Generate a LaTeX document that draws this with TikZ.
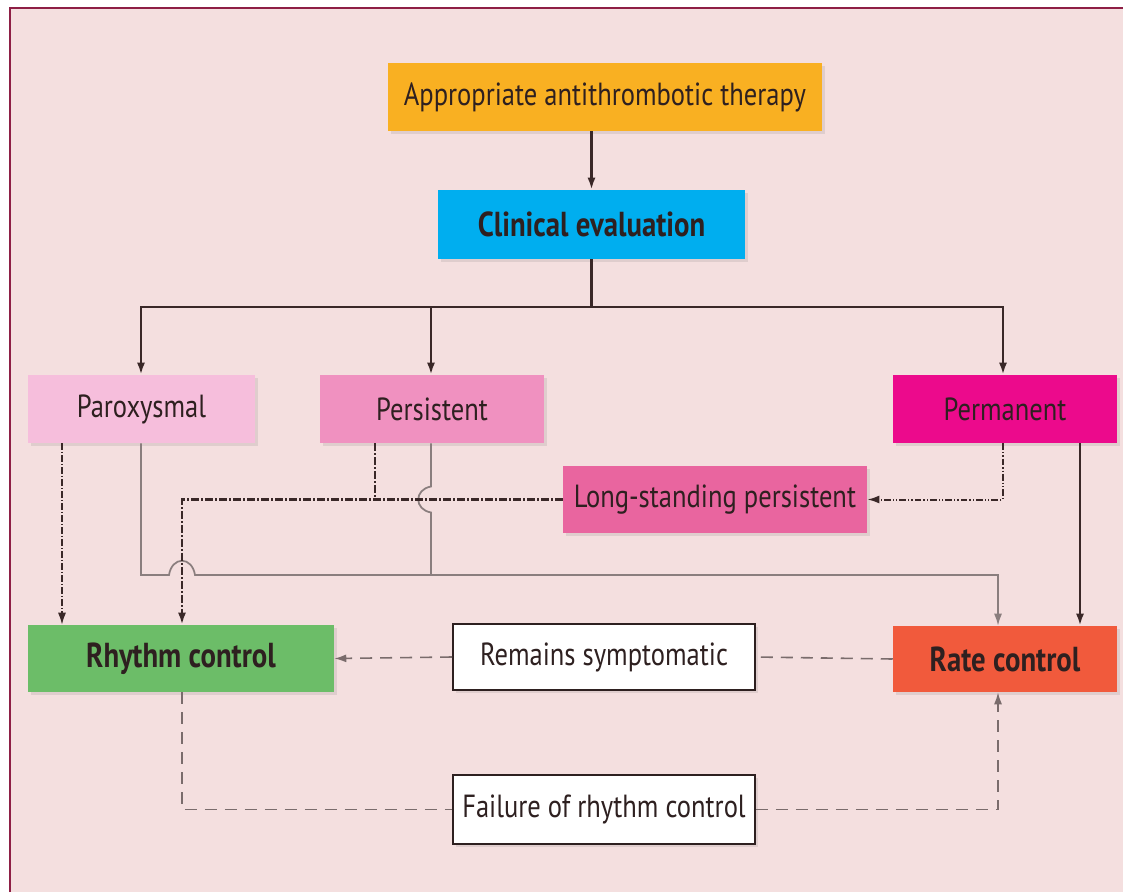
\documentclass[tikz,border=0pt]{standalone}
\usepackage{fontspec}
\setmainfont{PT Sans}[FakeStretch=0.83]
\usetikzlibrary{arrows.meta,shadows,calc}

\definecolor{pagebg}{HTML}{F4DFDF}
\definecolor{framecol}{HTML}{8E1F45}
\definecolor{cOrange}{HTML}{F9B022}
\definecolor{cCyan}{HTML}{00AEEF}
\definecolor{cParox}{HTML}{F6BEDC}
\definecolor{cPers}{HTML}{F091C0}
\definecolor{cPerm}{HTML}{EC0A8C}
\definecolor{cLong}{HTML}{E9659F}
\definecolor{cRhythm}{HTML}{6CBD68}
\definecolor{cRate}{HTML}{F15A3C}
\definecolor{ink}{HTML}{2E2020}
\definecolor{lineDark}{HTML}{3A2828}
\definecolor{lineGray}{HTML}{8A7E7E}
\definecolor{lineDash}{HTML}{7A6C6C}

\begin{document}
\begin{tikzpicture}[x=0.75pt,y=-0.75pt,
  wd/.style={minimum width=#1*0.75pt},
  ht/.style={minimum height=#1*0.75pt},
  box/.style={rectangle, inner sep=0pt, text=ink,
    font=\fontsize{24}{28}\selectfont,
    drop shadow={opacity=0.18, shadow xshift=2.5pt, shadow yshift=-2.5pt}},
  boldbox/.style={box, font=\fontsize{26}{30}\selectfont\bfseries},
  whitebox/.style={box, fill=white, draw=ink, line width=1.3pt},
  tip/.style={-{Latex[length=9pt,width=6pt]}},
  mainline/.style={draw=lineDark, line width=1.8pt},
  grayline/.style={draw=lineGray, line width=1.3pt},
  dashline/.style={draw=lineDash, line width=1.2pt, dash pattern=on 9pt off 6pt},
  dotdashthin/.style={draw=lineDark, line width=1.2pt, dash pattern=on 5pt off 1.5pt on 1pt off 1.5pt},
  dotdashthick/.style={draw=lineDark, line width=2.2pt, dash pattern=on 6pt off 1.5pt on 1.5pt off 1.5pt},
  dotdashperm/.style={draw=lineDark, line width=1.5pt, dash pattern=on 5pt off 1.5pt on 1pt off 1.5pt on 1pt off 1.5pt},
]
% page and frame
\useasboundingbox (0,0) rectangle (1123,892);
\fill[white] (0,0) rectangle (1123,892);
\fill[pagebg] (10,8) rectangle (1123,892);
\draw[framecol, line width=1.4pt] (10,892) -- (10,8) -- (1123,8);

% nodes
\node[box, fill=cOrange, wd=434, ht=68] (app) at (605,97) {Appropriate antithrombotic therapy};
\node[boldbox, fill=cCyan, wd=307, ht=69] (clin) at (591.5,224.5) {Clinical evaluation};
\node[box, fill=cParox, wd=227, ht=68] (parox) at (141.5,409) {Paroxysmal};
\node[box, fill=cPers, wd=224, ht=68] (pers) at (432,409) {Persistent};
\node[box, fill=cPerm, wd=224, ht=68] (perm) at (1005,409) {Permanent};
\node[box, fill=cLong, wd=304, ht=67] (long) at (715,499.5) {Long-standing persistent};
\node[boldbox, fill=cRhythm, wd=306, ht=67] (rhythm) at (181,658.5) {Rhythm control};
\node[whitebox, wd=302, ht=66] (remains) at (604,657) {Remains symptomatic};
\node[boldbox, fill=cRate, wd=224, ht=66] (rate) at (1005,659) {Rate control};
\node[whitebox, wd=302, ht=69] (fail) at (604,809.5) {Failure of rhythm control};

% routing columns and rows
\coordinate (xParoxA) at (62,0);
\coordinate (xParoxB) at (141,0);
\coordinate (xPersA) at (375,0);
\coordinate (xPersB) at (431,0);
\coordinate (xPermA) at (1003,0);
\coordinate (xPermB) at (1080,0);
\coordinate (xRhy) at (182,0);
\coordinate (xRate) at (998,0);
\coordinate (yBus) at (0,307);
\coordinate (yGray) at (0,575);
\coordinate (bus) at (clin.south |- yBus);

% top of the tree
\draw[mainline, tip] (app.south -| clin.north) -- (clin.north);
\draw[mainline] (clin.south) -- (bus);
\draw[mainline, tip] (bus) -| (parox.north -| xParoxB);
\draw[mainline, tip] (xPersB |- yBus) -- (pers.north -| xPersB);
\draw[mainline, tip] (bus) -| (perm.north -| xPermA);

% paroxysmal to rhythm control
\draw[dotdashthin, tip] (parox.south -| xParoxA) -- (rhythm.north -| xParoxA);

% paroxysmal and persistent to rate control (thin grey, with hops)
\draw[grayline, tip] (parox.south -| xParoxB) -- (xParoxB |- yGray)
  -- ($(xRhy |- yGray)+(-13,0)$) .. controls +(3,-19) and +(-3,-19) .. ++(26,0)
  -- (xRate |- yGray) -- (rate.north -| xRate);
\draw[grayline] (pers.south -| xPersB)
  -- ($(xPersB |- long.west)+(0,-13)$) .. controls +(-17,3) and +(-17,-3) .. ++(0,26)
  -- (xPersB |- yGray);

% persistent and long-standing persistent to rhythm control
\draw[dotdashthick] (pers.south -| xPersA) -- (xPersA |- long.west);
\draw[dotdashthick, tip] (long.west) -- (xRhy |- long.west) -- (rhythm.north -| xRhy);

% permanent
\draw[dotdashperm, tip] (perm.south -| xPermA) |- (long.east);
\draw[mainline, tip] (perm.south -| xPermB) -- (rate.north -| xPermB);

% cross-over loops
\draw[dashline] (rate.west) -- (remains.east);
\draw[dashline, tip] (remains.west) -- (rhythm.east);
\draw[dashline] (rhythm.south -| xRhy) |- (fail.west);
\draw[dashline, tip] (fail.east) -| (rate.south -| xRate);
\end{tikzpicture}
\end{document}
